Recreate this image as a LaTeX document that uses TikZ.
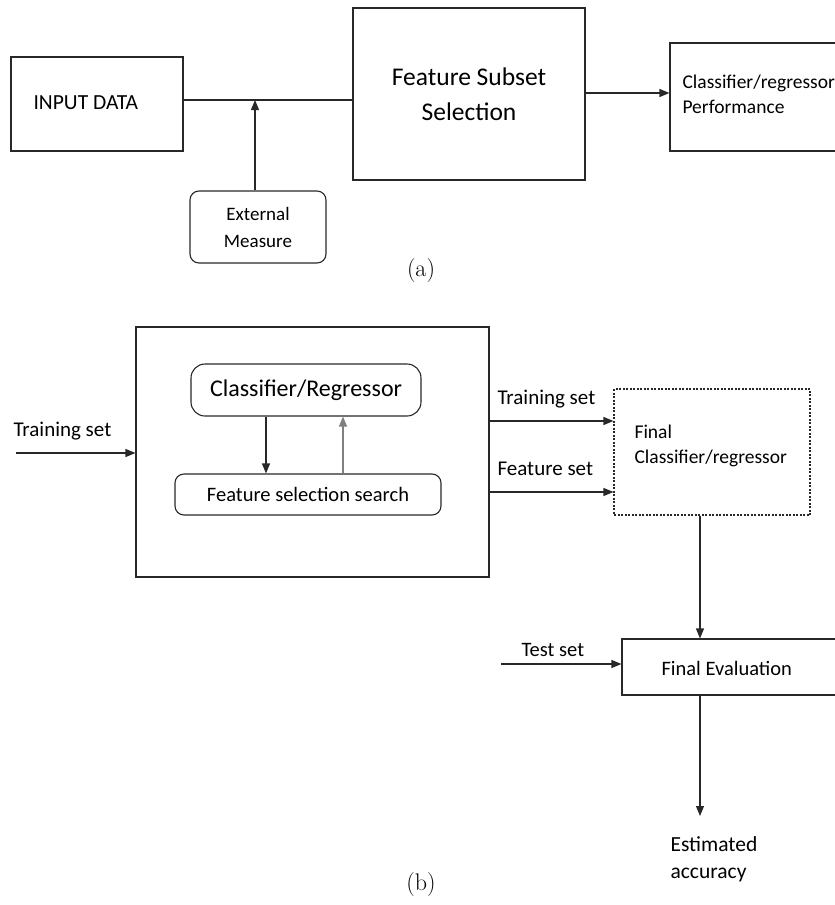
\documentclass[tikz,border=0pt]{standalone}
\usepackage{fontspec}
\setmainfont{Carlito}
\newfontfamily\lmr{Latin Modern Roman}
\usetikzlibrary{arrows.meta}
\begin{document}
\begin{tikzpicture}[x=1pt,y=-1pt,
  line width=1.1pt, draw={rgb,255:red,40;green,40;blue,40},
  box/.style={draw, rectangle, inner sep=0pt},
  rbox/.style={draw, rectangle, rounded corners=9pt, inner sep=0pt},
  txt/.style={inner sep=0pt, align=left, anchor=west},
  arr/.style={-{Triangle[length=10pt,width=8pt]}},
  fs/.style={font=\fontsize{21}{24}\selectfont}]
\useasboundingbox (0,0) rectangle (835,905);
\clip (0,0) rectangle (835,905);
% ---------- (a)
\node[box, minimum width=172pt, minimum height=94pt] (input) at (97,104) {};
\node[txt, font=\fontsize{21.5}{24}\selectfont] (inputt) at (33,103) {INPUT DATA};
\node[box, line width=2.4pt, minimum width=232pt, minimum height=172pt, font=\fontsize{25.5}{35}\selectfont, align=center] (fss) at (469,94) {Feature Subset\\Selection};
\node[box, minimum width=175pt, minimum height=108pt] (perf) at (757.5,97) {};
\node[txt, font=\fontsize{19.5}{25}\selectfont] (perft) at (682,94) {Classifier/regressor\\Performance};
\node[rbox, minimum width=136pt, minimum height=72pt, align=center, font=\fontsize{19}{27}\selectfont] (ext) at (258,227) {External\\Measure};
\coordinate (j) at (255,100);
\draw (input.east |- j) -- (fss.west |- j);
\draw[arr] (ext.north -| j) -- (j);
\draw[arr] (fss.east |- 0,93) -- (perf.west |- 0,93);
\node[inner sep=0pt, font=\lmr\fontsize{24}{26}\selectfont] (capa) at (421,271) {(a)};
% ---------- (b)
\node[box, minimum width=353pt, minimum height=250pt] (wrap) at (312.5,452) {};
\node[rbox, rounded corners=14pt, minimum width=230pt, minimum height=52pt, font=\fontsize{24}{26}\selectfont] (clr) at (306,390) {Classifier/Regressor};
\node[rbox, minimum width=266pt, minimum height=41pt, font=\fontsize{20.5}{22}\selectfont] (fsearch) at (308,494.5) {Feature selection search};
\draw[arr] (clr.south -| 266,0) -- (fsearch.north -| 266,0);
\draw[arr, draw=gray] (fsearch.north -| 343,0) -- (clr.south -| 343,0);
\coordinate (tin) at (16,453);
\draw[arr] (tin) -- (wrap.west |- tin);
\node[txt, fs] (tinl) at (13,431) {Training set};
\node[box, dash pattern=on 2pt off 1.5pt, minimum width=196pt, minimum height=126pt] (final) at (712,452) {};
\node[txt, font=\fontsize{19.5}{25}\selectfont] (finalt) at (634,446) {Final\\Classifier/regressor};
\draw[arr] (wrap.east |- 0,421) -- (final.west |- 0,421);
\node[txt, fs] (tsl) at (497,399) {Training set};
\draw[arr] (wrap.east |- 0,492) -- (final.west |- 0,492);
\node[txt, fs] (fsl) at (497,469) {Feature set};
\node[box, minimum width=223pt, minimum height=56pt] (eval) at (733.5,667) {};
\node[txt, font=\fontsize{20.5}{24}\selectfont] (evalt) at (661,668) {Final Evaluation};
\draw[arr] (final.south -| 700,0) -- (eval.north -| 700,0);
\coordinate (test) at (501,664);
\draw[arr] (test) -- (eval.west |- test);
\node[txt, font=\fontsize{20.5}{24}\selectfont] (testl) at (521,650) {Test set};
\coordinate (acc) at (700,816);
\draw[arr] (eval.south -| acc) -- (acc);
\node[txt, font=\fontsize{21.5}{27}\selectfont] (acct) at (670,859) {Estimated\\accuracy};
\node[inner sep=0pt, font=\lmr\fontsize{24}{26}\selectfont] (capb) at (421,885) {(b)};
\end{tikzpicture}
\end{document}
